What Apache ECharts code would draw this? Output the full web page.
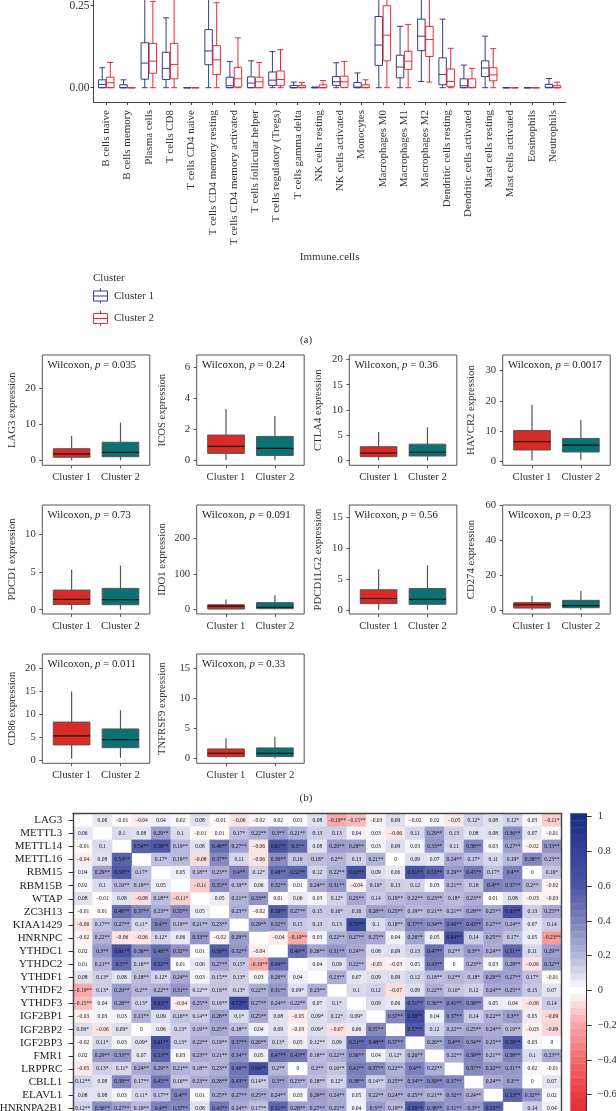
<!DOCTYPE html>
<html>
<head>
<meta charset="utf-8">
<title>Immune cells, checkpoints and m6A correlation</title>
<script src="https://cdn.jsdelivr.net/npm/echarts@6/dist/echarts.min.js"></script>
<style>
    html, body { margin: 0; padding: 0; background: #fff; overflow: hidden; }
    #chart { width: 616px; height: 1111px; }
</style>
</head>
<body>
<div id="chart"></div>
<script>
// (a) immune cell fractions, each box is [low, q1, median, q3, high]
const immuneCells = ['B cells naive', 'B cells memory', 'Plasma cells', 'T cells CD8', 'T cells CD4 naive',
    'T cells CD4 memory resting', 'T cells CD4 memory activated', 'T cells follicular helper',
    'T cells regulatory (Tregs)', 'T cells gamma delta', 'NK cells resting', 'NK cells activated', 'Monocytes',
    'Macrophages M0', 'Macrophages M1', 'Macrophages M2', 'Dendritic cells resting', 'Dendritic cells activated',
    'Mast cells resting', 'Mast cells activated', 'Eosinophils', 'Neutrophils'];
const immuneCluster1 = [
    [0, 0, 0.010, 0.024, 0.061], [0, 0, 0, 0.009, 0.024], [0, 0.026, 0.075, 0.137, 0.31], [0, 0.025, 0.059, 0.108, 0.213],
    [0, 0, 0, 0, 0], [0, 0.070, 0.112, 0.177, 0.32], [0, 0, 0.006, 0.032, 0.080], [0, 0, 0.014, 0.033, 0.082],
    [0, 0.007, 0.023, 0.048, 0.110], [0, 0, 0, 0.007, 0.017], [0, 0, 0, 0.001, 0.002], [0, 0.007, 0.018, 0.034, 0.076],
    [0, 0, 0.002, 0.016, 0.045], [0, 0.068, 0.130, 0.217, 0.33], [0, 0.030, 0.063, 0.099, 0.187], [0.019, 0.113, 0.157, 0.209, 0.31],
    [0, 0.009, 0.040, 0.091, 0.209], [0, 0, 0.006, 0.027, 0.069], [0, 0.034, 0.060, 0.082, 0.157], [0, 0, 0, 0, 0],
    [0, 0, 0, 0, 0], [0, 0, 0.001, 0.010, 0.028]
];
const immuneCluster2 = [
    [0, 0, 0.015, 0.032, 0.077], [0, 0, 0, 0, 0], [0, 0.044, 0.081, 0.135, 0.263], [0, 0.027, 0.071, 0.135, 0.30],
    [0, 0, 0, 0, 0], [0, 0.040, 0.085, 0.128, 0.259], [0, 0.002, 0.027, 0.062, 0.152], [0, 0, 0.018, 0.032, 0.077],
    [0, 0.006, 0.025, 0.051, 0.116], [0, 0, 0.001, 0.007, 0.016], [0, 0, 0, 0.009, 0.022], [0, 0.001, 0.018, 0.035, 0.080],
    [0, 0, 0.001, 0.009, 0.024], [0, 0.082, 0.160, 0.250, 0.30], [0, 0.056, 0.081, 0.111, 0.193], [0.017, 0.095, 0.147, 0.187, 0.30],
    [0, 0.003, 0.019, 0.057, 0.120], [0, 0, 0.001, 0.027, 0.059], [0, 0.021, 0.039, 0.061, 0.119], [0, 0, 0, 0, 0],
    [0, 0, 0, 0, 0], [0, 0, 0, 0.006, 0.017]
];
const immuneTicks = [0, 0.25, 0.5];

// (b) checkpoint genes
const clusterNames = ['Cluster 1', 'Cluster 2'];
const panelGenes = ['LAG3', 'ICOS', 'CTLA4', 'HAVCR2', 'PDCD1', 'IDO1', 'PDCD1LG2', 'CD274', 'CD86', 'TNFRSF9'];
const panelPvalues = ['0.035', '0.24', '0.36', '0.0017', '0.73', '0.091', '0.56', '0.23', '0.011', '0.33'];
const panelTicks = [
    [0, 10, 20], [0, 2, 4, 6], [0, 5, 10, 15, 20], [0, 10, 20, 30], [0, 5, 10],
    [0, 100, 200], [0, 5, 10, 15], [0, 20, 40, 60], [0, 5, 10, 15, 20], [0, 5, 10, 15]
];
const panelRanges = [
    [-1.38, 29.1], [-0.34, 6.8], [-0.99, 20.9], [-1.43, 35.2], [-0.57, 13.9],
    [-13, 294], [-0.59, 16.9], [-2.3, 60], [-0.72, 23.2], [-0.84, 17.4]
];
const panelBoxes = [
    [[0, 0.85, 1.8, 3.2, 6.8], [0, 1, 2.2, 5, 10.4]],
    [[0, 0.43, 0.89, 1.62, 3.3], [0, 0.3, 0.76, 1.53, 2.85]],
    [[0, 0.73, 1.45, 2.7, 5.6], [0, 0.85, 1.6, 3.2, 6.55]],
    [[0.2, 3.65, 6.4, 10.1, 18.6], [0.4, 3, 5.3, 7.5, 13.6]],
    [[0, 0.7, 1.37, 2.6, 5.35], [0, 0.66, 1.33, 2.83, 5.85]],
    [[0, 1, 9, 13, 28], [0, 2, 6, 19, 40]],
    [[0.1, 1.07, 1.9, 3.3, 6.6], [0.1, 0.96, 1.75, 3.5, 7.2]],
    [[0, 1.1, 3, 4.2, 8.2], [0, 1.3, 2.5, 5.5, 10.9]],
    [[0.3, 3.3, 5.3, 8.3, 15], [0.5, 2.7, 4.45, 6.8, 10.9]],
    [[0, 0.28, 0.84, 1.56, 3.35], [0, 0.28, 0.8, 1.73, 3.6]]
];

// (c) correlation heatmap, the last two rows fall below the picture
const corrGenes = ['LAG3', 'METTL3', 'METTL14', 'METTL16', 'RBM15', 'RBM15B', 'WTAP', 'ZC3H13', 'KIAA1429', 'HNRNPC',
    'YTHDC1', 'YTHDC2', 'YTHDF1', 'YTHDF2', 'YTHDF3', 'IGF2BP1', 'IGF2BP2', 'IGF2BP3', 'FMR1', 'LRPPRC', 'CBLL1',
    'ELAVL1', 'HNRNPA2B1', 'ALKBH5', 'FTO'];
const corrLabels = [
    ['', '0.06', '-0.01', '-0.04', '0.04', '0.02', '0.08', '-0.01', '-0.06', '-0.02', '0.02', '0.01', '0.08', '-0.19**', '-0.15**', '-0.03', '0.09', '-0.02', '0.02', '-0.05', '0.12*', '0.08', '0.12*', '0.03', '-0.11*'],
    ['0.06', '', '0.1', '0.08', '0.29**', '0.1', '-0.01', '0.01', '0.17*', '0.22**', '0.3**', '0.21**', '0.13', '0.13', '0.04', '0.03', '-0.06', '0.11', '0.29**', '0.13', '0.08', '0.08', '0.36**', '0.07', '-0.01'],
    ['-0.01', '0.1', '', '0.54**', '0.58**', '0.19**', '0.08', '0.48**', '0.27**', '-0.06', '0.61**', '0.5**', '0.08', '0.29**', '0.28**', '0.03', '0.09', '0.03', '0.33**', '0.11', '0.38**', '0.03', '0.27**', '-0.02', '0.33**'],
    ['-0.04', '0.08', '0.54**', '', '0.17*', '0.19**', '-0.08', '0.37**', '0.11', '-0.06', '0.36**', '0.16', '0.18*', '0.2**', '0.13', '0.21**', '0', '0.09', '0.07', '0.24**', '0.17*', '0.11', '0.19*', '0.38**', '0.23**'],
    ['0.04', '0.29**', '0.58**', '0.17*', '', '0.05', '0.18**', '0.23**', '0.4**', '0.12*', '0.48**', '0.52**', '0.12', '0.22**', '0.63**', '0.09', '0.06', '0.61**', '0.53**', '0.29**', '0.45**', '0.17*', '0.4**', '0', '0.16*'],
    ['0.02', '0.1', '0.19**', '0.19**', '0.05', '', '-0.11', '0.35**', '0.19**', '0.06', '0.32**', '0.01', '0.24**', '0.31**', '-0.04', '0.16*', '0.13', '0.12', '0.03', '0.21**', '0.16', '0.4**', '0.37**', '0.2**', '-0.02'],
    ['0.08', '-0.01', '0.08', '-0.08', '0.18**', '-0.11*', '', '0.05', '0.21**', '0.33**', '0.01', '0.06', '0.03', '0.12*', '0.25**', '0.14', '0.19**', '0.22**', '0.23**', '0.18*', '0.23**', '0.01', '0.08', '-0.03', '-0.03'],
    ['-0.01', '0.01', '0.48**', '0.37**', '0.23**', '0.35**', '0.05', '', '0.23**', '-0.02', '0.56**', '0.27**', '0.15', '0.16*', '0.16', '0.28**', '0.25**', '0.19**', '0.21**', '0.21**', '0.28**', '0.25**', '0.63**', '0.13', '0.25**'],
    ['-0.06', '0.17**', '0.27**', '0.11*', '0.4**', '0.19**', '0.21**', '0.23**', '', '0.29**', '0.32**', '0.15', '0.13', '0.13', '0.72**', '0.1', '0.18**', '0.37**', '0.34**', '0.46**', '0.43**', '0.27**', '0.24**', '0.07', '0.14'],
    ['-0.02', '0.22**', '-0.06', '-0.06', '0.12*', '0.06', '0.33**', '-0.02', '0.29**', '', '-0.04', '-0.19**', '0.03', '0.22**', '0.27**', '0.25**', '0.04', '0.26**', '0.05', '0.64**', '0.14', '0.25**', '0.17*', '0.05', '-0.23**'],
    ['0.02', '0.3**', '0.61**', '0.36**', '0.48**', '0.32**', '0.01', '0.56**', '0.32**', '-0.04', '', '0.49**', '0.26**', '0.31**', '0.24**', '0.08', '0.09', '0.13', '0.47**', '0.2**', '0.3**', '0.24**', '0.51**', '0.11', '0.29**'],
    ['0.01', '0.21**', '0.5**', '0.16**', '0.52**', '0.01', '0.06', '0.27**', '0.15*', '-0.19**', '0.49**', '', '0.04', '0.09', '0.22**', '-0.05', '-0.03', '0.05', '0.43**', '0', '0.23**', '0.03', '0.28**', '-0.06', '0.32**'],
    ['0.08', '0.13*', '0.08', '0.18**', '0.12*', '0.24**', '0.03', '0.15**', '0.13*', '0.03', '0.26**', '0.04', '', '0.23**', '0.07', '0.09', '0.09', '0.12', '0.18**', '0.2**', '0.18*', '0.29**', '0.27**', '0.17*', '-0.01'],
    ['-0.19**', '0.13*', '0.29**', '0.2**', '0.22**', '0.31**', '0.12**', '0.16**', '0.13*', '0.22**', '0.31**', '0.09*', '0.23**', '', '0.1', '0.12', '-0.07', '0.09', '0.22**', '0.16*', '0.12', '0.24**', '0.25**', '0.15', '0.07'],
    ['-0.15**', '0.04', '0.28**', '0.13*', '0.63**', '-0.04', '0.25**', '0.16**', '0.72**', '0.27**', '0.24**', '0.22**', '0.07', '0.1*', '', '0.09', '0.06', '0.51**', '0.36**', '0.41**', '0.38**', '0.05', '0.04', '-0.06', '0.14'],
    ['-0.03', '0.03', '0.03', '0.21**', '0.09', '0.16**', '0.14**', '0.28**', '0.1*', '0.25**', '0.08', '-0.05', '0.09*', '0.12*', '0.09*', '', '0.37**', '0.68**', '0.04', '0.37**', '0.14', '0.22**', '0.3**', '0.05', '-0.09'],
    ['0.09*', '-0.06', '0.09*', '0', '0.06', '0.13*', '0.19**', '0.25**', '0.18**', '0.04', '0.09', '-0.03', '0.09*', '-0.07', '0.06', '0.37**', '', '0.57**', '0.12', '0.22**', '0.25**', '0.24**', '0.19**', '-0.03', '-0.09'],
    ['-0.02', '0.11*', '0.03', '0.09*', '0.61**', '0.13*', '0.22**', '0.19**', '0.37**', '0.26**', '0.13*', '0.05', '0.12**', '0.09', '0.51**', '0.48**', '0.37**', '', '0.26**', '0.4**', '0.34**', '0.25**', '0.58**', '0.03', '0'],
    ['0.02', '0.29**', '0.33**', '0.07', '0.53**', '0.03', '0.23**', '0.21**', '0.34**', '0.05', '0.47**', '0.43**', '0.18**', '0.22**', '0.36**', '0.04', '0.12*', '0.26**', '', '0.22**', '0.39**', '0.21**', '0.38**', '0.1', '0.23**'],
    ['-0.05', '0.13*', '0.11*', '0.24**', '0.29**', '0.21**', '0.18**', '0.23**', '0.46**', '0.64**', '0.2**', '0', '0.2**', '0.16**', '0.41**', '0.37**', '0.22**', '0.4**', '0.22**', '', '0.37**', '0.32**', '0.31**', '0.02', '-0.01'],
    ['0.12**', '0.08', '0.38**', '0.17**', '0.45**', '0.16**', '0.23**', '0.28**', '0.43**', '0.14**', '0.3**', '0.23**', '0.18**', '0.12*', '0.38**', '0.14**', '0.25**', '0.34**', '0.39**', '0.37**', '', '0.24**', '0.3**', '0', '0.07'],
    ['0.08', '0.08', '0.03', '0.11*', '0.17**', '0.4**', '0.01', '0.25**', '0.27**', '0.25**', '0.24**', '0.03', '0.29**', '0.24**', '0.05', '0.22**', '0.24**', '0.25**', '0.21**', '0.32**', '0.24**', '', '0.53**', '0.32**', '0.02'],
    ['0.12**', '0.36**', '0.27**', '0.19**', '0.4**', '0.37**', '0.08', '0.43**', '0.24**', '0.17**', '0.51**', '0.28**', '0.27**', '0.25**', '0.04', '0.3**', '0.19**', '0.58**', '0.38**', '0.31**', '0.3**', '0.53**', '', '0.14', '0.04']
];
const colorbarTicks = [-1, -0.8, -0.6, -0.4, -0.2, 0, 0.2, 0.4, 0.6, 0.8, 1];
const colorbarLevels = [-1, -0.96, -0.92, -0.88, -0.84, -0.8, -0.76, -0.72, -0.68, -0.64, -0.6, -0.56, -0.52, -0.48, -0.44,
    -0.4, -0.36, -0.32, -0.28, -0.24, -0.2, -0.16, -0.12, -0.08, -0.04, 0, 0.04, 0.08, 0.12, 0.16, 0.2, 0.24, 0.28, 0.32,
    0.36, 0.4, 0.44, 0.48, 0.52, 0.56, 0.6, 0.64, 0.68, 0.72, 0.76, 0.8, 0.84, 0.88, 0.92, 0.96, 1];

const serif = 'Liberation Serif';
const blue = '#323d90', red = '#ee2a35';

// panel layout of figure (b)
const colLeft = [42.3, 196.7, 349.3, 502.7];
const colNameGap = [25, 29.5, 26, 26];
const rowTop = [355, 505, 654];
const rowHeight = [110.3, 109, 109.3];
const panelWidth = 107.5;

function boxRenderer(style) {
    return function (params, api) {
        const x = api.value(0) + style.offset;
        const w = api.size([style.width, 0])[0];
        const cx = api.coord([x, 0])[0];
        const lowY = api.coord([x, api.value(1)])[1];
        const q1Y = api.coord([x, api.value(2)])[1];
        const medY = api.coord([x, api.value(3)])[1];
        const q3Y = api.coord([x, api.value(4)])[1];
        const hiY = api.coord([x, api.value(5)])[1];
        const line = (x1, y1, x2, y2, color, lw) => ({
            type: 'line',
            shape: { x1: x1, y1: y1, x2: x2, y2: y2 },
            style: { stroke: color, lineWidth: lw, fill: null }
        });
        const children = [
            line(cx, lowY, cx, q1Y, style.whisker, style.whiskerWidth),
            line(cx, q3Y, cx, hiY, style.whisker, style.whiskerWidth),
            {
                type: 'rect',
                shape: { x: cx - w / 2, y: q3Y, width: w, height: q1Y - q3Y },
                style: { fill: style.fill, stroke: style.stroke, lineWidth: style.lineWidth }
            },
            line(cx - w / 2, medY, cx + w / 2, medY, style.median, style.medianWidth)
        ];
        if (style.cap) {
            children.push(line(cx - style.cap / 2, hiY, cx + style.cap / 2, hiY, style.whisker, style.whiskerWidth));
            children.push(line(cx - style.cap / 2, lowY, cx + style.cap / 2, lowY, style.whisker, style.whiskerWidth));
        }
        return { type: 'group', children: children };
    };
}

function boxSeries(name, axisIndex, boxes, style) {
    return {
        type: 'custom',
        name: name,
        xAxisIndex: axisIndex,
        yAxisIndex: axisIndex,
        clip: false,
        renderItem: boxRenderer(style),
        encode: { x: 0, y: [1, 2, 3, 4, 5] },
        data: boxes.map((b, i) => [i].concat(b))
    };
}

const grids = [], xAxes = [], yAxes = [], seriesList = [], graphics = [];

// figure (a), y range runs above the top edge of the picture
grids.push({ left: 93.5, width: 472.3, top: -76.3, height: 178.3, outerBoundsMode: 'none' });
xAxes.push({
    gridIndex: 0, type: 'value', min: -0.6, max: 21.6, splitLine: { show: false },
    name: 'Immune.cells', nameLocation: 'middle', nameGap: 149.5, nameMoveOverlap: false,
    nameTextStyle: { fontFamily: serif, fontSize: 11, color: '#333' },
    axisLine: { show: true, onZero: false, lineStyle: { color: '#444', width: 1 } },
    axisTick: { show: true, length: 3, customValues: immuneCells.map((c, i) => i), lineStyle: { color: '#444' } },
    axisLabel: {
        rotate: 90, margin: 8, fontFamily: serif, fontSize: 11, color: '#333',
        customValues: immuneCells.map((c, i) => i),
        formatter: v => immuneCells[v]
    }
});
yAxes.push({
    gridIndex: 0, type: 'value', min: -0.0436, max: 0.5, splitLine: { show: false },
    axisLine: { show: true, onZero: false, lineStyle: { color: '#444', width: 1 } },
    axisTick: { show: true, length: 3, customValues: immuneTicks, lineStyle: { color: '#444' } },
    axisLabel: {
        margin: 4, fontFamily: serif, fontSize: 11.5, color: '#333',
        customValues: immuneTicks, formatter: v => v.toFixed(2)
    }
});
const openBox = { width: 0.35, fill: 'rgba(255,255,255,0)', lineWidth: 1, medianWidth: 1, whiskerWidth: 1, cap: 6 };
seriesList.push(boxSeries('Cluster 1', 0, immuneCluster1,
    Object.assign({}, openBox, { offset: -0.19, stroke: blue, median: blue, whisker: blue })));
seriesList.push(boxSeries('Cluster 2', 0, immuneCluster2,
    Object.assign({}, openBox, { offset: 0.19, stroke: red, median: red, whisker: red })));

// figure (b)
panelGenes.forEach((gene, k) => {
    const idx = k + 1;
    const col = k % 4, row = Math.floor(k / 4);
    grids.push({
        left: colLeft[col], width: panelWidth, top: rowTop[row], height: rowHeight[row], outerBoundsMode: 'none',
        show: true, borderColor: '#555', borderWidth: 1, backgroundColor: '#fff'
    });
    xAxes.push({
        gridIndex: idx, type: 'value', min: -0.6, max: 1.6, splitLine: { show: false },
        axisLine: { show: false, onZero: false },
        axisTick: { show: true, length: 3, customValues: [0, 1], lineStyle: { color: '#555' } },
        axisLabel: {
            margin: 6.5, fontFamily: serif, fontSize: 10.7, color: '#333',
            customValues: [0, 1], formatter: v => clusterNames[v]
        }
    });
    yAxes.push({
        gridIndex: idx, type: 'value', min: panelRanges[k][0], max: panelRanges[k][1], splitLine: { show: false },
        name: gene + ' expression', nameLocation: 'middle', nameGap: colNameGap[col], nameMoveOverlap: false,
        nameTextStyle: { fontFamily: serif, fontSize: 10.7, color: '#333' },
        axisLine: { show: false, onZero: false },
        axisTick: { show: true, length: 3, customValues: panelTicks[k], lineStyle: { color: '#555' } },
        axisLabel: { margin: 6.5, fontFamily: serif, fontSize: 10.7, color: '#333', customValues: panelTicks[k] }
    });
    const solid = { offset: 0, width: 0.75, stroke: '#555', lineWidth: 1, median: '#111', medianWidth: 1.2, whisker: '#555', whiskerWidth: 1.2 };
    seriesList.push(boxSeries(gene, idx, panelBoxes[k].slice(0, 1), Object.assign({}, solid, { fill: '#d92a24' })));
    seriesList.push(boxSeries(gene, idx, panelBoxes[k].slice(1), Object.assign({}, solid, { fill: '#0a7175', offset: 1 })));
    graphics.push({
        type: 'text', left: colLeft[col] + 5.2, top: rowTop[row] + 4.5, z: 50,
        style: {
            text: '{a|Wilcoxon, }{i|p}{a| = ' + panelPvalues[k] + '}',
            rich: {
                a: { fontFamily: serif, fontSize: 10.8, fill: '#222' },
                i: { fontFamily: serif, fontSize: 10.8, fontStyle: 'italic', fill: '#222' }
            }
        }
    });
});

// figure (c) heatmap
const heatGrid = grids.length;
grids.push({ left: 73, width: 488.7, top: 813.7, height: 327.25, outerBoundsMode: 'none' });
xAxes.push({
    gridIndex: heatGrid, type: 'category', position: 'top', data: corrGenes, z: 5,
    axisLine: { show: true, onZero: false, lineStyle: { color: '#444', width: 1.4 } },
    axisTick: { show: false }, axisLabel: { show: false }, splitLine: { show: false }
});
const heatY = yAxes.length;
yAxes.push({
    gridIndex: heatGrid, type: 'category', inverse: true, data: corrGenes, z: 5,
    axisLine: { show: true, onZero: false, lineStyle: { color: '#444', width: 1.4 } },
    axisTick: { show: true, length: 4.5, alignWithLabel: true, lineStyle: { color: '#333' } },
    axisLabel: { interval: 0, margin: 10.7, fontFamily: serif, fontSize: 11, color: '#222' },
    splitLine: { show: false }
});
yAxes.push({
    gridIndex: heatGrid, type: 'category', inverse: true, position: 'right', data: corrGenes, z: 5,
    axisLine: { show: true, onZero: false, lineStyle: { color: '#444', width: 1.4 } },
    axisTick: { show: false }, axisLabel: { show: false }, splitLine: { show: false }
});
const heatData = [];
corrLabels.forEach((labels, r) => {
    labels.forEach((text, c) => {
        if (text !== '') heatData.push([c, r, parseFloat(text), text.replace('-', '\u2212')]);
    });
});
const heatSeries = seriesList.length;
seriesList.push({
    type: 'heatmap',
    xAxisIndex: heatGrid, yAxisIndex: heatY,
    data: heatData,
    encode: { x: 0, y: 1, value: 2 },
    itemStyle: { borderWidth: 0 },
    label: {
        show: true, fontFamily: serif, fontSize: 5.5, color: '#111',
        formatter: p => p.data[3]
    }
});

// colour bar, same colour map as the heatmap
const barGrid = grids.length;
grids.push({ left: 570.3, width: 16.4, top: 814, height: 350, outerBoundsMode: 'none' });
const barX = xAxes.length;
xAxes.push({
    gridIndex: barGrid, type: 'value', min: 0, max: 1, z: 5, splitLine: { show: false },
    axisLine: { show: false, onZero: false }, axisTick: { show: false }, axisLabel: { show: false }
});
const barY = yAxes.length;
yAxes.push({
    gridIndex: barGrid, type: 'value', position: 'right', min: -1, max: 1.0156, z: 5, splitLine: { show: false },
    axisLine: { show: true, onZero: false, lineStyle: { color: '#333', width: 1 } },
    axisTick: { show: true, length: 5, customValues: colorbarTicks, lineStyle: { color: '#333' } },
    axisLabel: {
        margin: 11, fontFamily: serif, fontSize: 10.5, color: '#333',
        customValues: colorbarTicks,
        formatter: v => String(Math.round(v * 10) / 10).replace('-', '\u2212')
    }
});
const barSeries = seriesList.length;
seriesList.push({
    type: 'custom',
    xAxisIndex: barX, yAxisIndex: barY,
    encode: { x: 0, y: 1 },
    data: colorbarLevels.map(v => [0, v, v]),
    renderItem: function (params, api) {
        const v = api.value(1);
        const top = api.coord([0, v + 0.02]);
        const bottom = api.coord([1, v - 0.02]);
        return {
            type: 'rect',
            shape: { x: top[0], y: top[1], width: bottom[0] - top[0], height: bottom[1] - top[1] + 0.3 },
            style: { fill: api.visual('color') }
        };
    }
});

// legend of (a) and the captions
const legendKey = (y, color) => ({
    type: 'group', x: 93.5, y: y, z: 50,
    children: [
        { type: 'line', shape: { x1: 7, y1: 0, x2: 7, y2: 15 }, style: { stroke: color, lineWidth: 1 } },
        { type: 'rect', shape: { x: 0, y: 2.7, width: 14, height: 10 }, style: { fill: '#fff', stroke: color, lineWidth: 1 } },
        { type: 'line', shape: { x1: 0, y1: 7.7, x2: 14, y2: 7.7 }, style: { stroke: color, lineWidth: 1 } }
    ]
});
const plainText = (x, y, text, align) => ({
    type: 'text', x: x, y: y, z: 50,
    style: { text: text, fontFamily: serif, fontSize: 11, fill: '#333', textAlign: align || 'left', textVerticalAlign: 'middle' }
});
graphics.push(plainText(93, 278, 'Cluster'));
graphics.push(legendKey(288.3, blue));
graphics.push(legendKey(310.8, red));
graphics.push(plainText(114, 296, clusterNames[0]));
graphics.push(plainText(114, 318.5, clusterNames[1]));
graphics.push(plainText(306, 340, '(a)', 'center'));
graphics.push(plainText(306, 798, '(b)', 'center'));

const chart = echarts.init(document.getElementById('chart'), null, { renderer: 'canvas' });
chart.setOption({
    animation: false,
    backgroundColor: '#fff',
    grid: grids,
    xAxis: xAxes,
    yAxis: yAxes,
    visualMap: {
        show: false,
        type: 'continuous',
        seriesIndex: [heatSeries, barSeries],
        dimension: 2,
        min: -1,
        max: 1,
        inRange: {
            color: ['#c0141e', '#d8242a', '#ea3a40', '#f26a6c', '#f8a5a5', '#ffffff',
                '#b4b6da', '#7c81bb', '#4a54a2', '#33429a', '#1c2f80']
        }
    },
    series: seriesList,
    graphic: graphics
});
</script>
</body>
</html>
